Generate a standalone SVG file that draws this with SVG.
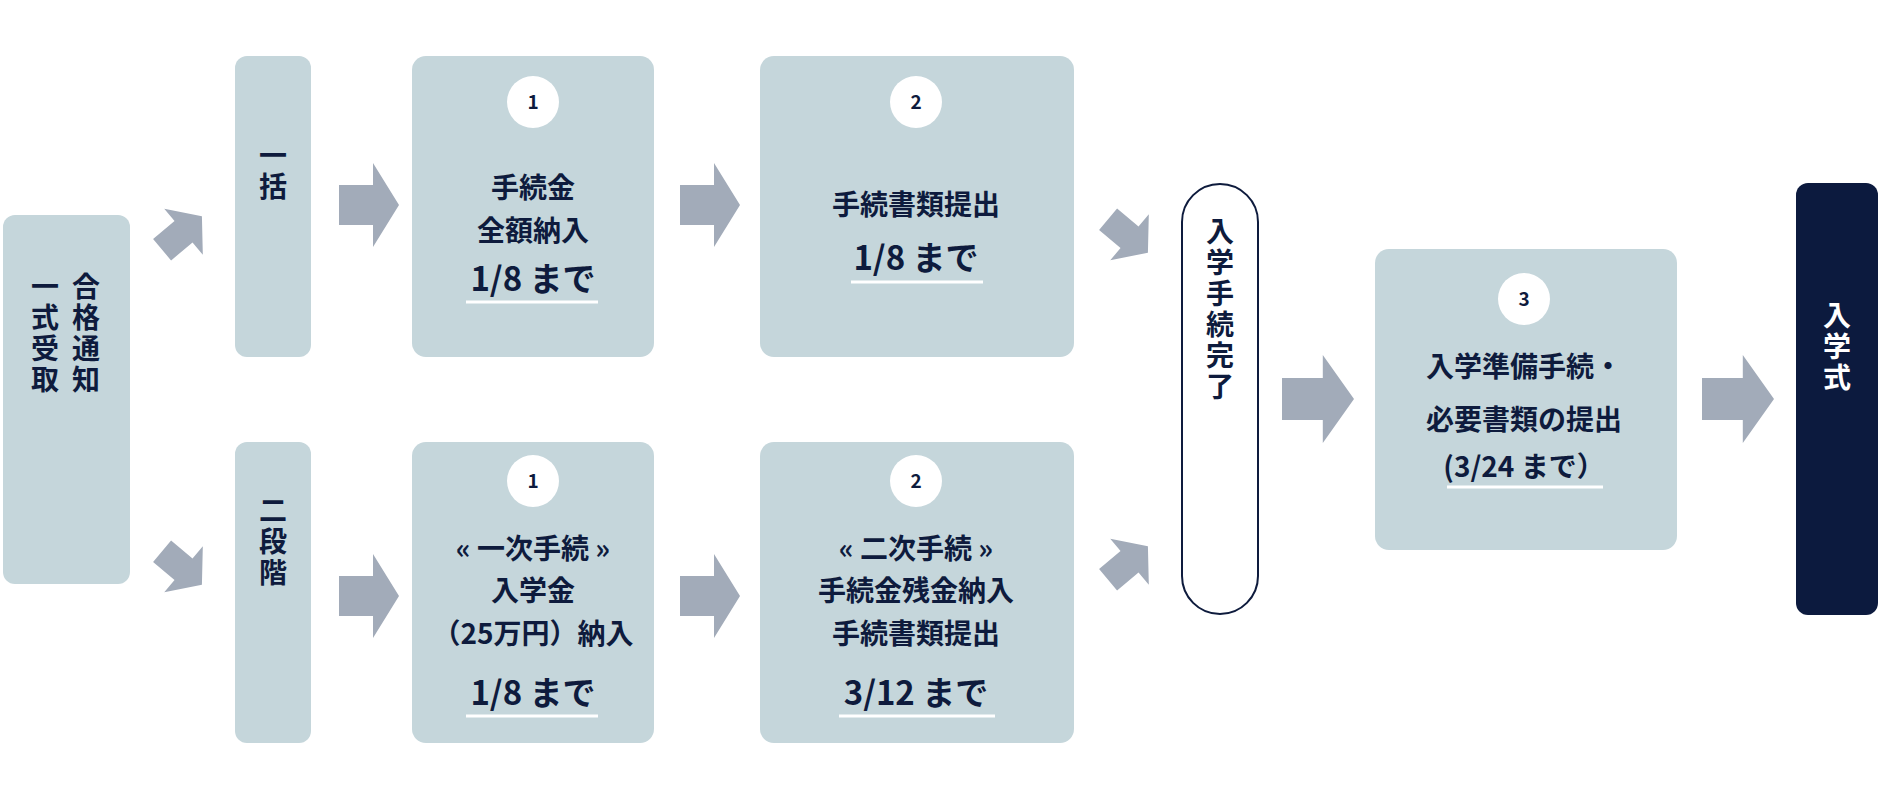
<svg xmlns="http://www.w3.org/2000/svg" width="1880" height="800" viewBox="0 0 1880 800">
<style>
.b{fill:#c5d6db}
.t{font-family:"Noto Sans CJK JP","Noto Sans",sans-serif;font-weight:700;fill:#0e1b3d;text-anchor:middle}
.m{font-size:28px}
.d{font-size:33px}
.n{font-size:19px}
.v{font-size:28px;writing-mode:vertical-rl;letter-spacing:3px}
.u{stroke:#fff;stroke-width:3}
.a{fill:#a2abb9}
</style>
<defs>
<path id="ar" d="M-30,-20 H4 V-42 L30,0 L4,42 V20 H-30 Z"/>
<path id="dg" d="M-26,-14 H2 V-30 L26,0 L2,30 V14 H-26 Z"/>
</defs>
<g id="connectors" class="a">
<use href="#dg" transform="translate(182,233) rotate(-40)"/>
<use href="#dg" transform="translate(182,568) rotate(40)"/>
<use href="#ar" transform="translate(369,205)"/>
<use href="#ar" transform="translate(369,596)"/>
<use href="#ar" transform="translate(710,205)"/>
<use href="#ar" transform="translate(710,596)"/>
<use href="#dg" transform="translate(1128,236) rotate(40)"/>
<use href="#dg" transform="translate(1128,563) rotate(-40)"/>
<use href="#ar" transform="translate(1318,399) scale(1.2,1.05)"/>
<use href="#ar" transform="translate(1738,399) scale(1.2,1.05)"/>
</g>
<g id="n-goukaku">
<rect class="b" x="3" y="215" width="127" height="369" rx="12"/>
<text class="t v" x="86" y="334">合格通知</text>
<text class="t v" x="45" y="334">一式受取</text>
</g>
<g id="n-ikkatsu">
<rect class="b" x="235" y="56" width="76" height="301" rx="12"/>
<text class="t v" x="273" y="172">一括</text>
</g>
<g id="n-nidankai">
<rect class="b" x="235" y="442" width="76" height="301" rx="12"/>
<text class="t v" x="273" y="543">二段階</text>
</g>
<g id="n-top1">
<rect class="b" x="412" y="56" width="242" height="301" rx="14"/>
<circle cx="533" cy="102" r="26" fill="#fff"/>
<text class="t n" x="533" y="109">1</text>
<text class="t m" x="533" y="198">手続金</text>
<text class="t m" x="533" y="241">全額納入</text>
<text class="t d" x="533" y="291">1/8 まで</text>
<line class="u" x1="466" y1="302" x2="598" y2="302"/>
</g>
<g id="n-top2">
<rect class="b" x="760" y="56" width="314" height="301" rx="14"/>
<circle cx="916" cy="102" r="26" fill="#fff"/>
<text class="t n" x="916" y="109">2</text>
<text class="t m" x="916" y="215">手続書類提出</text>
<text class="t d" x="916" y="270">1/8 まで</text>
<line class="u" x1="851" y1="282" x2="983" y2="282"/>
</g>
<g id="n-bot1">
<rect class="b" x="412" y="442" width="242" height="301" rx="14"/>
<circle cx="533" cy="481" r="26" fill="#fff"/>
<text class="t n" x="533" y="488">1</text>
<text class="t m" x="533" y="559">« 一次手続 »</text>
<text class="t m" x="533" y="601">入学金</text>
<text class="t m" x="533" y="644">（25万円）納入</text>
<text class="t d" x="533" y="705">1/8 まで</text>
<line class="u" x1="466" y1="716" x2="598" y2="716"/>
</g>
<g id="n-bot2">
<rect class="b" x="760" y="442" width="314" height="301" rx="14"/>
<circle cx="916" cy="481" r="26" fill="#fff"/>
<text class="t n" x="916" y="488">2</text>
<text class="t m" x="916" y="559">« 二次手続 »</text>
<text class="t m" x="916" y="601">手続金残金納入</text>
<text class="t m" x="916" y="644">手続書類提出</text>
<text class="t d" x="916" y="705">3/12 まで</text>
<line class="u" x1="839" y1="716" x2="995" y2="716"/>
</g>
<g id="n-kanryo">
<rect x="1182" y="184" width="76" height="430" rx="38" fill="#fff" stroke="#0e1b3d" stroke-width="2"/>
<text class="t v" x="1220" y="310">入学手続完了</text>
</g>
<g id="n-step3">
<rect class="b" x="1375" y="249" width="302" height="301" rx="14"/>
<circle cx="1524" cy="299" r="26" fill="#fff"/>
<text class="t n" x="1524" y="306">3</text>
<text class="t m" x="1524" y="377">入学準備手続・</text>
<text class="t m" x="1524" y="430">必要書類の提出</text>
<text class="t m" x="1524" y="477">(3/24 まで）</text>
<line class="u" x1="1447" y1="487" x2="1603" y2="487"/>
</g>
<g id="n-nyugakushiki">
<rect x="1796" y="183" width="82" height="432" rx="12" fill="#0c1a3e"/>
<text class="t v" x="1837" y="348" style="fill:#fff">入学式</text>
</g>
</svg>
